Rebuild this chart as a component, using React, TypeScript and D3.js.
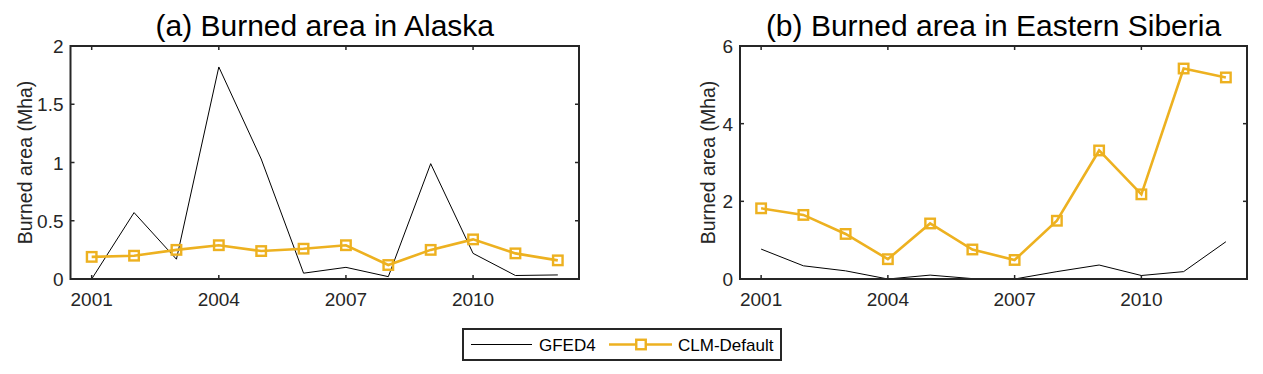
import React from "react";
import * as d3 from "d3";

const years = [2001, 2002, 2003, 2004, 2005, 2006, 2007, 2008, 2009, 2010, 2011, 2012];
const yearTicks = [2001, 2004, 2007, 2010];

const alaskaGfed = [0.0, 0.57, 0.17, 1.82, 1.03, 0.05, 0.1, 0.02, 0.99, 0.22, 0.03, 0.035];
const alaskaClm = [0.19, 0.2, 0.25, 0.29, 0.24, 0.26, 0.29, 0.12, 0.25, 0.34, 0.22, 0.16];
const alaskaTicks = [0, 0.5, 1, 1.5, 2];

const siberiaGfed = [0.77, 0.34, 0.21, 0.0, 0.1, 0.01, 0.0, 0.19, 0.36, 0.09, 0.19, 0.96];
const siberiaClm = [1.82, 1.65, 1.16, 0.51, 1.43, 0.76, 0.49, 1.5, 3.31, 2.18, 5.42, 5.19];
const siberiaTicks = [0, 2, 4, 6];

const FONT = "'Liberation Sans', Arial, sans-serif";
const INK = "#262626";
const ORANGE = "#EDB120";

type PanelProps = {
  left: number;
  right: number;
  title: string;
  gfed: number[];
  clm: number[];
  yMax: number;
  yTicks: number[];
  labelOffset: number;
};

const top = 46;
const bottom = 279;

const Panel = ({ left, right, title, gfed, clm, yMax, yTicks, labelOffset }: PanelProps) => {
  const x = d3.scaleLinear().domain([2000.5, 2012.5]).range([left, right]);
  const y = d3.scaleLinear().domain([0, yMax]).range([bottom, top]);
  const line = d3
    .line<number>()
    .x((_, i) => x(years[i]))
    .y((d) => y(d));
  const tl = 4;
  const ms = 9.5;

  return (
    <g>
      <text
        x={(left + right) / 2}
        y={36}
        textAnchor="middle"
        fontSize={30}
        fill="#000"
        fontFamily={FONT}
      >
        {title}
      </text>
      <path d={line(gfed) ?? ""} fill="none" stroke="#000" strokeWidth={1} />
      <path d={line(clm) ?? ""} fill="none" stroke={ORANGE} strokeWidth={2.6} />
      {clm.map((d, i) => (
        <rect
          key={i}
          x={x(years[i]) - ms / 2}
          y={y(d) - ms / 2}
          width={ms}
          height={ms}
          fill="none"
          stroke={ORANGE}
          strokeWidth={2.4}
        />
      ))}
      {yearTicks.map((t) => (
        <g key={t}>
          <line x1={x(t)} x2={x(t)} y1={bottom} y2={bottom - tl} stroke={INK} strokeWidth={1.5} />
          <line x1={x(t)} x2={x(t)} y1={top} y2={top + tl} stroke={INK} strokeWidth={1.5} />
          <text
            x={x(t)}
            y={bottom + 27}
            textAnchor="middle"
            fontSize={19}
            fill={INK}
            fontFamily={FONT}
          >
            {t}
          </text>
        </g>
      ))}
      {yTicks.map((t) => (
        <g key={t}>
          <line x1={left} x2={left + tl} y1={y(t)} y2={y(t)} stroke={INK} strokeWidth={1.5} />
          <line x1={right} x2={right - tl} y1={y(t)} y2={y(t)} stroke={INK} strokeWidth={1.5} />
          <text
            x={left - 7}
            y={y(t) + 7}
            textAnchor="end"
            fontSize={19}
            fill={INK}
            fontFamily={FONT}
          >
            {t}
          </text>
        </g>
      ))}
      <rect
        x={left}
        y={top}
        width={right - left}
        height={bottom - top}
        fill="none"
        stroke={INK}
        strokeWidth={2}
      />
      <text
        transform={`translate(${left - labelOffset},${(top + bottom) / 2}) rotate(-90)`}
        textAnchor="middle"
        fontSize={19.5}
        fill={INK}
        fontFamily={FONT}
      >
        Burned area (Mha)
      </text>
    </g>
  );
};

export default function App() {
  return (
    <svg width={1263} height={374} style={{ position: "absolute", left: 0, top: 0, background: "#fff" }}>
      <rect width={1263} height={374} fill="#fff" />
      <Panel
        left={70.5}
        right={579}
        title="(a) Burned area in Alaska"
        gfed={alaskaGfed}
        clm={alaskaClm}
        yMax={2}
        yTicks={alaskaTicks}
        labelOffset={38.5}
      />
      <Panel
        left={740}
        right={1247}
        title="(b) Burned area in Eastern Siberia"
        gfed={siberiaGfed}
        clm={siberiaClm}
        yMax={6}
        yTicks={siberiaTicks}
        labelOffset={25}
      />
      <g>
        <rect x={463} y={329} width={318} height={31} fill="#fff" stroke={INK} strokeWidth={2} />
        <line x1={471} x2={532} y1={344.5} y2={344.5} stroke="#000" strokeWidth={1} />
        <text x={539} y={351} fontSize={17} fill="#000" fontFamily={FONT}>
          GFED4
        </text>
        <line x1={609} x2={672} y1={344.5} y2={344.5} stroke={ORANGE} strokeWidth={2.6} />
        <rect x={641 - 4.75} y={339.75} width={9.5} height={9.5} fill="#fff" stroke={ORANGE} strokeWidth={2.4} />
        <text x={678} y={351} fontSize={17} fill="#000" fontFamily={FONT}>
          CLM-Default
        </text>
      </g>
    </svg>
  );
}
